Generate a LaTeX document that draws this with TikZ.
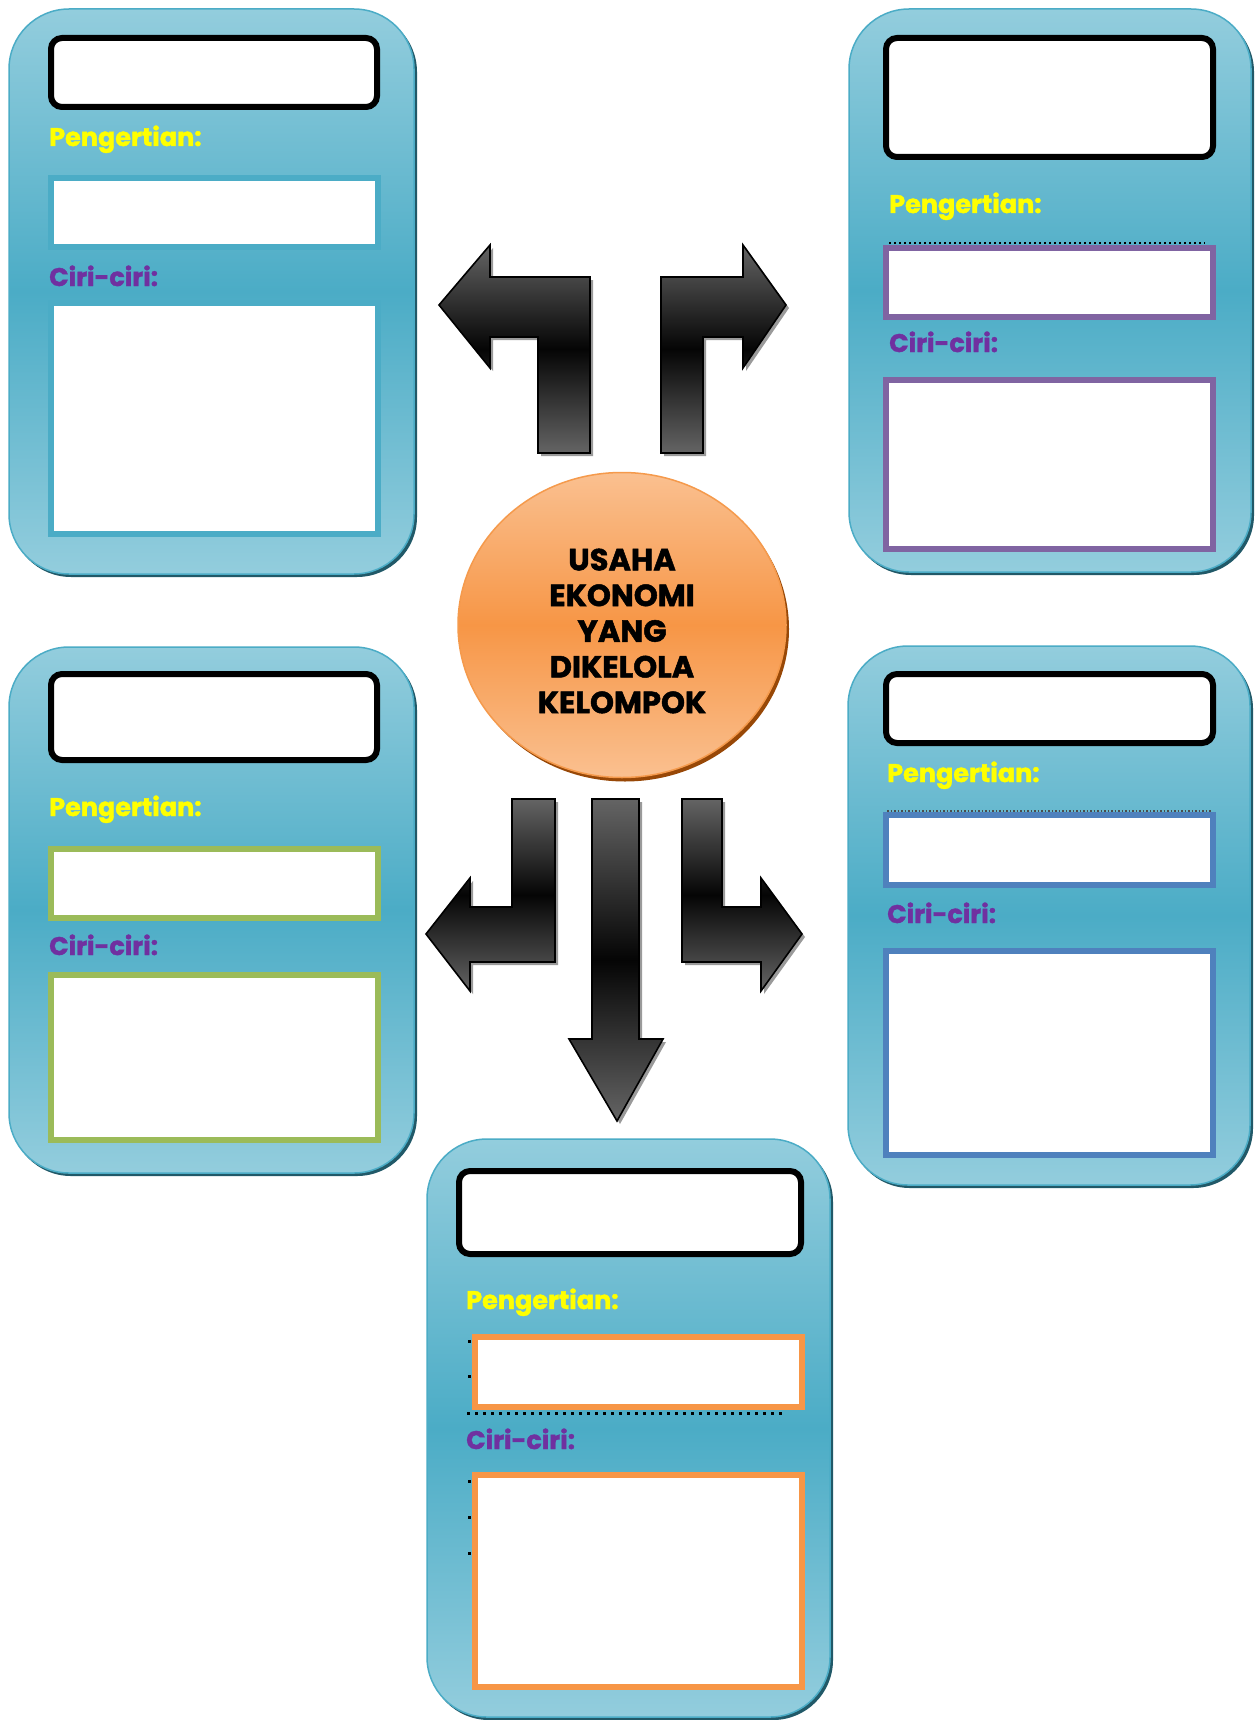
\documentclass[tikz,border=0pt]{standalone}
\usepackage{fontspec}
\setmainfont{Poppins}
\newfontfamily\popfont{Poppins}[BoldFeatures={FakeBold=1.6}]
\usetikzlibrary{fit,shapes.geometric}
\definecolor{cardlight}{HTML}{93CDDD}
\definecolor{carddark}{HTML}{4BACC6}
\definecolor{cardshadow}{HTML}{215968}
\definecolor{pengyellow}{HTML}{FFFF00}
\definecolor{ciripurple}{HTML}{7030A0}
\definecolor{boxteal}{HTML}{4BACC6}
\definecolor{boxpurple}{HTML}{8064A2}
\definecolor{boxgreen}{HTML}{9BBB59}
\definecolor{boxblue}{HTML}{4F81BD}
\definecolor{boxorange}{HTML}{F79646}
\definecolor{arrowgray}{HTML}{646464}
\definecolor{arrowblack}{HTML}{050505}
\definecolor{arrowshadow}{HTML}{9A9A9A}
\definecolor{ovlight}{HTML}{FAC090}
\definecolor{ovmid}{HTML}{F79646}
\definecolor{ovedge}{HTML}{F59A4C}
\definecolor{ovshadow}{HTML}{984807}
\tikzset{
  card/.style={draw=carddark, line width=1.5pt, rounded corners=60pt,
    top color=cardlight, bottom color=cardlight, middle color=carddark, inner sep=0pt},
  cardshade/.style={fill=cardshadow, rounded corners=60pt, inner sep=0pt},
  titlebox/.style={draw=black, line width=6pt, fill=white, rounded corners=11pt, inner sep=0pt},
  infobox/.style={draw=#1, line width=6pt, fill=white, inner sep=0pt},
  blockarrow/.style={draw=black, line width=1.6pt, line join=miter,
    top color=arrowgray, bottom color=arrowgray, middle color=arrowblack},
  arrowshade/.style={fill=arrowshadow},
  labeltext/.style={font=\popfont\bfseries\fontsize{25.5}{30}\selectfont, anchor=base west, inner sep=0pt},
  pengtext/.style={labeltext, text=pengyellow},
  ciritext/.style={labeltext, text=ciripurple},
  dotline/.style={line width=2pt, dash pattern=on 2pt off 3pt},
  dotlinebig/.style={line width=3pt, dash pattern=on 3pt off 5pt},
  bulletdot/.style={fill=black, minimum size=3pt, inner sep=0pt},
}
\begin{document}
\begin{tikzpicture}[x=1pt,y=-1pt]
\useasboundingbox (0,0) rectangle (1257,1720);
\fill[white] (0,0) rectangle (1257,1720);

% ---------- card shadows ----------
\node[cardshade, fit={(11,12)(417,577)}] (tls) {};
\node[cardshade, fit={(851,12)(1254,575)}] (trs) {};
\node[cardshade, fit={(11,650)(417,1176)}] (bls) {};
\node[cardshade, fit={(850,649)(1253,1188)}] (brs) {};
\node[cardshade, fit={(429,1142)(833,1720)}] (bcs) {};

% ---------- cards ----------
\node[card, fit={(9,9)(414,574)}] (tl) {};
\node[card, fit={(849,9)(1251,572)}] (tr) {};
\node[card, fit={(9,647)(414,1173)}] (bl) {};
\node[card, fit={(848,646)(1250,1185)}] (br) {};
\node[card, fit={(427,1139)(830,1717)}] (bc) {};

% ---------- top-left card ----------
\node[titlebox, fit={(51,38)(377,107)}] (tlt) {};
\node[pengtext] (tlp) at (49,146) {Pengertian:};
\node[infobox=boxteal, fit={(51,178)(378,247)}] (tlpb) {};
\node[ciritext] (tlc) at (49,286) {Ciri-ciri:};
\node[infobox=boxteal, fit={(51,303)(378,534)}] (tlcb) {};

% ---------- top-right card ----------
\node[titlebox, fit={(886,38)(1213,157)}] (trt) {};
\node[pengtext] (trp) at (889,213) {Pengertian:};
\draw[dotline] (889,243) -- (1205,243);
\node[infobox=boxpurple, fit={(886,248)(1213,317)}] (trpb) {};
\node[ciritext] (trc) at (889,352) {Ciri-ciri:};
\node[infobox=boxpurple, fit={(886,380)(1213,549)}] (trcb) {};

% ---------- bottom-left card ----------
\node[titlebox, fit={(51,674)(377,760)}] (blt) {};
\node[pengtext] (blp) at (49,816) {Pengertian:};
\node[infobox=boxgreen, fit={(51,849)(378,918)}] (blpb) {};
\node[ciritext] (blc) at (49,955) {Ciri-ciri:};
\node[infobox=boxgreen, fit={(51,975)(378,1140)}] (blcb) {};

% ---------- bottom-right card ----------
\node[titlebox, fit={(886,674)(1213,743)}] (brt) {};
\node[pengtext] (brp) at (887,782) {Pengertian:};
\draw[line width=1.5pt, dash pattern=on 1.5pt off 2pt, black!70] (887,811) -- (1212,811);
\node[infobox=boxblue, fit={(886,815)(1213,885)}] (brpb) {};
\node[ciritext] (brc) at (887,923) {Ciri-ciri:};
\node[infobox=boxblue, fit={(886,951)(1213,1155)}] (brcb) {};

% ---------- bottom card ----------
\node[titlebox, fit={(459,1171)(801,1254)}] (bct) {};
\node[pengtext] (bcp) at (466,1309) {Pengertian:};
\node[bulletdot] (bcd1) at (469,1341) {};
\node[bulletdot] (bcd2) at (469,1376) {};
\draw[dotlinebig] (467,1413) -- (783,1413);
\node[infobox=boxorange, fit={(475,1337)(802,1407)}] (bcpb) {};
\node[ciritext] (bcc) at (466,1449) {Ciri-ciri:};
\node[bulletdot] (bcd3) at (469,1481) {};
\node[bulletdot] (bcd4) at (469,1517) {};
\node[bulletdot] (bcd5) at (469,1553) {};
\node[infobox=boxorange, fit={(475,1475)(802,1687)}] (bccb) {};

% ---------- block arrows ----------
\begin{scope}[shift={(3,3)}]
\fill[arrowshade] (439,305) -- (490,245) -- (490,277) -- (590,277) -- (590,453) -- (538,453) -- (538,337) -- (490,337) -- (490,368) -- cycle;
\fill[arrowshade] (661,453) -- (661,277) -- (743,277) -- (743,245) -- (786,305) -- (743,368) -- (743,337) -- (703,337) -- (703,453) -- cycle;
\fill[arrowshade] (512,799) -- (555,799) -- (555,962) -- (470,962) -- (470,991) -- (426,934) -- (470,878) -- (470,907) -- (512,907) -- cycle;
\fill[arrowshade] (592,799) -- (639,799) -- (639,1039) -- (663,1039) -- (617,1121) -- (569,1039) -- (592,1039) -- cycle;
\fill[arrowshade] (682,799) -- (722,799) -- (722,907) -- (761,907) -- (761,878) -- (802,934) -- (761,991) -- (761,962) -- (682,962) -- cycle;
\end{scope}
\path[blockarrow] (439,305) -- (490,245) -- (490,277) -- (590,277) -- (590,453) -- (538,453) -- (538,337) -- (490,337) -- (490,368) -- cycle;
\path[blockarrow] (661,453) -- (661,277) -- (743,277) -- (743,245) -- (786,305) -- (743,368) -- (743,337) -- (703,337) -- (703,453) -- cycle;
\path[blockarrow] (512,799) -- (555,799) -- (555,962) -- (470,962) -- (470,991) -- (426,934) -- (470,878) -- (470,907) -- (512,907) -- cycle;
\path[blockarrow] (592,799) -- (639,799) -- (639,1039) -- (663,1039) -- (617,1121) -- (569,1039) -- (592,1039) -- cycle;
\path[blockarrow] (682,799) -- (722,799) -- (722,907) -- (761,907) -- (761,878) -- (802,934) -- (761,991) -- (761,962) -- (682,962) -- cycle;

% ---------- centre ellipse ----------
\node[ellipse, fill=ovshadow, minimum width=328pt, minimum height=305pt, inner sep=0pt] (ovs) at (625,629) {};
\node[ellipse, draw=ovedge, line width=1.5pt, top color=ovlight, bottom color=ovlight, middle color=ovmid,
      minimum width=328pt, minimum height=305pt, inner sep=0pt] (ov) at (622,625) {};
\node[align=center, font=\popfont\bfseries\fontsize{30.5}{35.7}\selectfont, inner sep=0pt] (ovt) at (622,631)
  {USAHA\\EKONOMI\\YANG\\DIKELOLA\\KELOMPOK};
\end{tikzpicture}
\end{document}
